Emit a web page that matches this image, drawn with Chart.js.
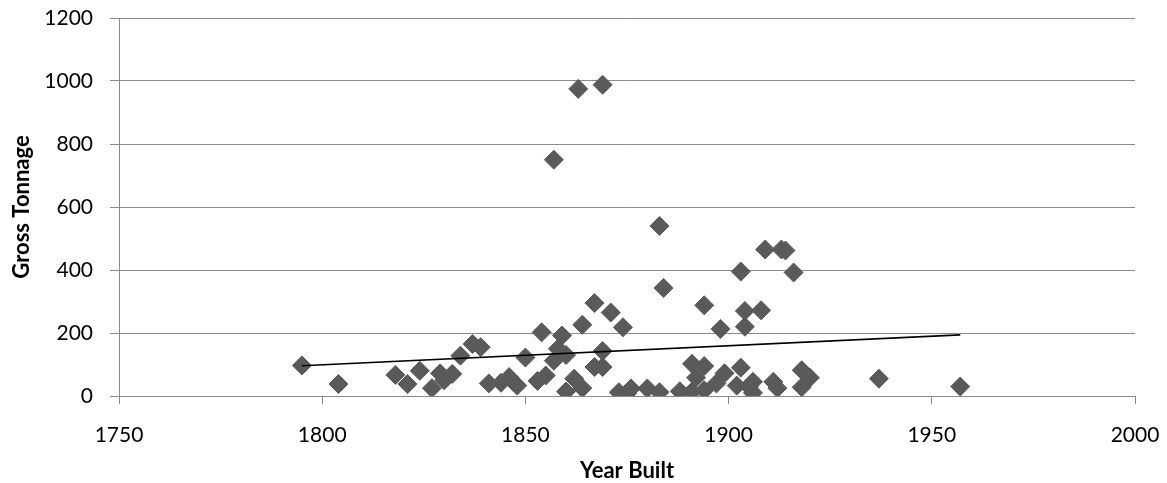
<!DOCTYPE html>
<html>
<head>
<meta charset="utf-8">
<script src="https://cdn.jsdelivr.net/npm/chart.js@4.4.1/dist/chart.umd.min.js"></script>
<style>
  html, body { margin: 0; padding: 0; background: #ffffff; }
  #wrap { width: 1167px; height: 483px; }
</style>
</head>
<body>
<div id="wrap"><canvas id="c" width="1167" height="483"></canvas></div>
<script>
// Year built of each vessel
const yearBuilt = [
  1795, 1804, 1818, 1821, 1824, 1827, 1829, 1830, 1832, 1834,
  1837, 1839, 1841, 1844, 1846, 1847, 1848, 1850, 1853, 1854,
  1855, 1857, 1857, 1858, 1859, 1860, 1860, 1862, 1863, 1864,
  1864, 1867, 1867, 1869, 1869, 1869, 1871, 1873, 1874, 1875,
  1876, 1880, 1883, 1883, 1884, 1888, 1891, 1891, 1892, 1894,
  1894, 1894, 1897, 1898, 1899, 1902, 1903, 1903, 1904, 1904,
  1905, 1906, 1906, 1908, 1909, 1911, 1912, 1913, 1914, 1916,
  1918, 1918, 1920, 1937, 1957
];
// Gross tonnage of each vessel (same order)
const grossTonnage = [
  97, 38, 67, 38, 80, 25, 72, 50, 70, 128,
  165, 155, 40, 42, 60, 45, 33, 122, 48, 202,
  65, 112, 750, 150, 192, 130, 14, 55, 975, 25,
  226, 295, 92, 988, 143, 92, 265, 12, 218, 8,
  24, 24, 540, 12, 343, 15, 102, 14, 58, 288,
  95, 18, 40, 213, 72, 33, 90, 395, 270, 220,
  30, 10, 45, 272, 465, 45, 25, 465, 462, 392,
  82, 28, 58, 55, 30
];
// Linear trendline endpoints (as drawn)
const trendYears = [1795, 1957];
const trendValues = [96, 194];

const xTicks = [1750, 1800, 1850, 1900, 1950, 2000];
const yTicks = [0, 200, 400, 600, 800, 1000, 1200];

const FONT = "Lato, 'Open Sans', 'DejaVu Sans', sans-serif";
const GRID = '#8a8a8a';

const points = yearBuilt.map((x, i) => ({ x: x, y: grossTonnage[i] }));
const trend = trendYears.map((x, i) => ({ x: x, y: trendValues[i] }));

new Chart(document.getElementById('c'), {
  type: 'scatter',
  data: {
    datasets: [
      {
        label: 'Gross Tonnage',
        data: points,
        pointStyle: 'rectRot',
        pointRadius: 9.5,
        pointBackgroundColor: '#5a5a5a',
        pointBorderColor: '#5a5a5a',
        pointBorderWidth: 1,
        order: 2
      },
      {
        label: 'Linear',
        type: 'line',
        data: trend,
        showLine: true,
        borderColor: '#000000',
        borderWidth: 1.6,
        pointRadius: 0,
        fill: false,
        order: 1
      }
    ]
  },
  options: {
    responsive: false,
    animation: false,
    events: [],
    layout: { padding: { left: 0, right: 32, top: 18, bottom: 0 } },
    plugins: {
      legend: { display: false },
      tooltip: { enabled: false }
    },
    scales: {
      x: {
        type: 'linear',
        min: 1750,
        max: 2000,
        afterBuildTicks: (s) => { s.ticks = xTicks.map(v => ({ value: v })); },
        afterFit: (s) => { s.height = 87; s.paddingLeft = 0; s.paddingRight = 0; },
        grid: { drawOnChartArea: false, drawTicks: true, tickLength: 8, color: GRID, lineWidth: 1 },
        border: { display: true, color: GRID, width: 1 },
        ticks: { color: '#000', font: { family: FONT, size: 21 }, padding: 19, maxRotation: 0,
                 callback: (v) => String(v) },
        title: { display: true, text: 'Year Built', color: '#000', font: { family: FONT, size: 22, weight: 'bold' }, padding: { top: 0, bottom: -1 } }
      },
      y: {
        type: 'linear',
        min: 0,
        max: 1200,
        afterBuildTicks: (s) => { s.ticks = yTicks.map(v => ({ value: v })); },
        afterFit: (s) => { s.width = 119; s.paddingTop = 0; s.paddingBottom = 0; },
        grid: { drawOnChartArea: true, drawTicks: true, tickLength: 9, color: GRID, lineWidth: 1 },
        border: { display: true, color: GRID, width: 1 },
        ticks: { color: '#000', font: { family: FONT, size: 21 }, padding: 17,
                 callback: (v) => String(v) },
        title: { display: true, text: 'Gross Tonnage', color: '#000', font: { family: FONT, size: 22, weight: 'bold' }, padding: { top: 9, bottom: 0 } }
      }
    }
  }
});
</script>
</body>
</html>
